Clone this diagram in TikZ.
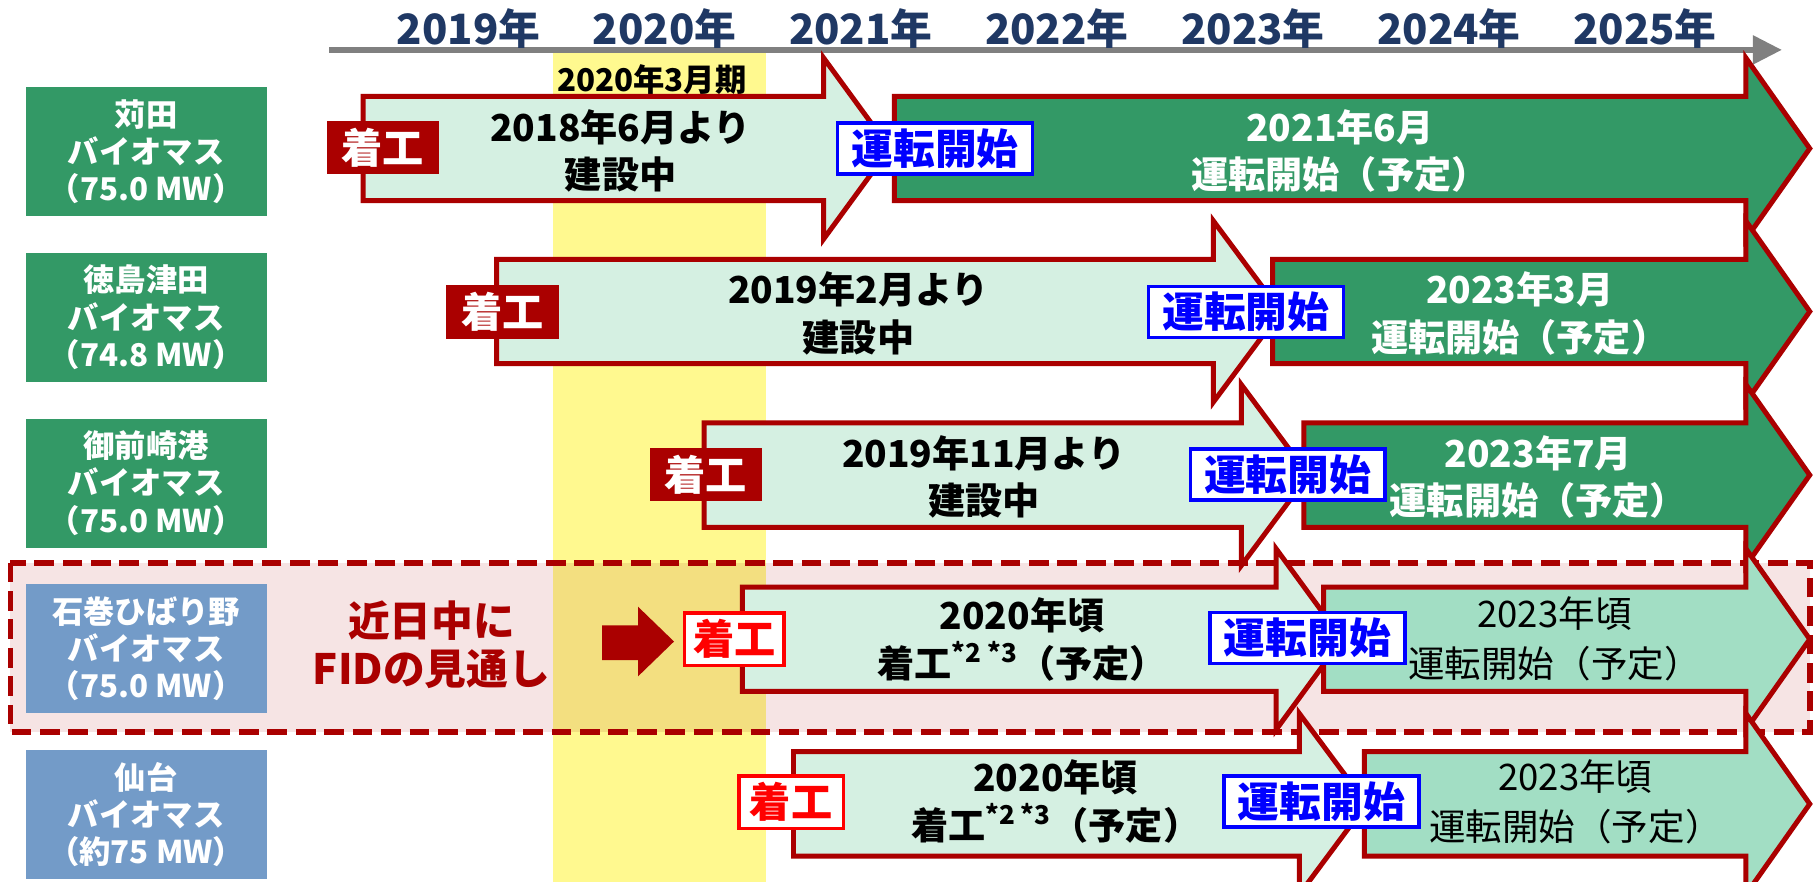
\documentclass[tikz,border=0pt]{standalone}
\usepackage{fontspec}
\setmainfont{Noto Sans CJK JP}
\usetikzlibrary{arrows.meta}
\definecolor{kred}{RGB}{170,0,0}
\definecolor{kgreen}{RGB}{51,153,102}
\definecolor{kblue}{RGB}{115,155,200}
\definecolor{klight}{RGB}{213,240,226}
\definecolor{kmid}{RGB}{162,222,196}
\definecolor{knavy}{RGB}{31,56,100}
\definecolor{kband}{RGB}{255,249,143}
\definecolor{kbandpink}{RGB}{243,223,128}
\definecolor{kpink}{RGB}{246,228,228}
\tikzset{
  year/.style={text=knavy,font=\fontsize{18}{18}\selectfont\bfseries,inner sep=0pt},
  period/.style={font=\fontsize{13.5}{14}\selectfont\bfseries,inner sep=0pt},
  site/.style={text=white,font=\fontsize{13.5}{16}\selectfont\bfseries,align=center,
    minimum width=104pt,minimum height=55.5pt,inner sep=0pt},
  build/.style={draw=kred,fill=klight,line width=2.15pt},
  run/.style={draw=kred,fill=kgreen,line width=2.15pt},
  plan/.style={draw=kred,fill=kmid,line width=2.15pt},
  btext/.style={font=\fontsize{16}{20.5}\selectfont\bfseries,align=center,inner sep=0pt},
  rtext/.style={btext,text=white},
  ptext/.style={font=\fontsize{15.75}{21.5}\selectfont,align=center,inner sep=0pt},
  startbox/.style={fill=kred,text=white,font=\fontsize{17.75}{18}\selectfont\bfseries,
    minimum width=48.5pt,minimum height=23pt,inner sep=0pt},
  startnew/.style={draw=red,fill=white,text=red,line width=1.5pt,
    font=\fontsize{17.75}{18}\selectfont\bfseries,minimum width=43pt,minimum height=22.5pt,inner sep=0pt},
  opbox/.style={draw=blue,fill=white,text=blue,line width=1.5pt,
    font=\fontsize{18}{18}\selectfont\bfseries,minimum width=84pt,minimum height=22pt,inner sep=0pt},
  fidline/.style={draw=kred,line width=2.5pt,dash pattern=on 8.5pt off 3.75pt}
}
\newcommand{\blockarrow}[5]{%
  \draw[#1] (#2,#5-45) -- (#3,#5-45) -- (#3,#5-78) -- (#4,#5)
    -- (#3,#5+78) -- (#3,#5+45) -- (#2,#5+45) -- cycle;}

\begin{document}
\begin{tikzpicture}[x=0.5pt,y=-0.5pt]
\useasboundingbox (0,0) rectangle (1568,760);
\clip (0,0) rectangle (1568,760);
\fill[white] (0,0) rectangle (1568,760);
% FID box and yellow band
\fill[kpink] (9,485) rectangle (1560,631);
\fill[kband] (477,46) rectangle (660,760);
\fill[kbandpink] (477,485) rectangle (660,631);
\draw[fidline] (9,485) rectangle (1560,631);
% time axis
\coordinate (axisL) at (284,43);
\coordinate (axisR) at (1536,43);
\draw[gray,line width=2.5pt,-{Triangle[length=12.5pt,width=12pt]}] (axisL) -- (axisR);
\foreach \yr [count=\i from 0] in {2019,...,2025}
  \node[year] (y\yr) at (404+169*\i,25) {\yr 年};
\node[period] (fy) at (562,69) {2020年3月期};
% sites
\node[site,fill=kgreen] (kanda) at (126,130.5) {苅田\\バイオマス\\（75.0 MW）};
\node[site,fill=kgreen] (tokushima) at (126,273.5) {徳島津田\\バイオマス\\（74.8 MW）};
\node[site,fill=kgreen] (omaezaki) at (126,416.5) {御前崎港\\バイオマス\\（75.0 MW）};
\node[site,fill=kblue] (ishinomaki) at (126,559) {石巻ひばり野\\バイオマス\\（75.0 MW）};
\node[site,fill=kblue] (sendai) at (126,702) {仙台\\バイオマス\\（約75 MW）};
% row 1
\blockarrow{build}{313}{710}{767}{128}
\blockarrow{run}{771}{1505}{1560}{128}
\node[btext] (kandaB) at (535,130) {2018年6月より\\建設中};
\node[rtext] (kandaR) at (1155,130) {2021年6月\\運転開始（予定）};
\node[startbox] (kandaS) at (330,127) {着工};
\node[opbox] (kandaO) at (806,128) {運転開始};
% row 2
\blockarrow{build}{428}{1046}{1104}{268.5}
\blockarrow{run}{1097}{1505}{1560}{268.5}
\node[btext] (tokushimaB) at (740,270) {2019年2月より\\建設中};
\node[rtext] (tokushimaR) at (1310,270) {2023年3月\\運転開始（予定）};
\node[startbox] (tokushimaS) at (433,269) {着工};
\node[opbox] (tokushimaO) at (1074,269) {運転開始};
% row 3
\blockarrow{build}{607}{1070}{1128}{409.5}
\blockarrow{run}{1124}{1505}{1560}{409.5}
\node[btext] (omaezakiB) at (848,411) {2019年11月より\\建設中};
\node[rtext] (omaezakiR) at (1326,411) {2023年7月\\運転開始（予定）};
\node[startbox] (omaezakiS) at (608.5,409) {着工};
\node[opbox] (omaezakiO) at (1110,409) {運転開始};
% row 4
\node[font=\fontsize{18}{20.5}\selectfont\bfseries,text=kred,align=center,inner sep=0pt]
  (fid) at (372,556) {近日中に\\FIDの見通し};
\fill[kred] (519,539) -- (550,539) -- (550,523) -- (581,553) -- (550,583) -- (550,569)
  -- (519,569) -- cycle;
\blockarrow{build}{640}{1100}{1157}{551}
\blockarrow{plan}{1141}{1505}{1560}{551}
\node[btext] (ishinomakiB) at (881,551) {2020年頃\\着工\textsuperscript{*2 *3}（予定）};
\node[ptext] (ishinomakiR) at (1340,551) {2023年頃\\運転開始（予定）};
\node[startnew] (ishinomakiS) at (633,551) {着工};
\node[opbox] (ishinomakiO) at (1127,550) {運転開始};
% row 5
\blockarrow{build}{684}{1120}{1178}{693}
\blockarrow{plan}{1176}{1505}{1560}{693}
\node[btext] (sendaiB) at (910,691) {2020年頃\\着工\textsuperscript{*2 *3}（予定）};
\node[ptext] (sendaiR) at (1358,691) {2023年頃\\運転開始（予定）};
\node[startnew,minimum width=45pt] (sendaiS) at (682,691.5) {着工};
\node[opbox] (sendaiO) at (1139,691) {運転開始};
\end{tikzpicture}
\end{document}
